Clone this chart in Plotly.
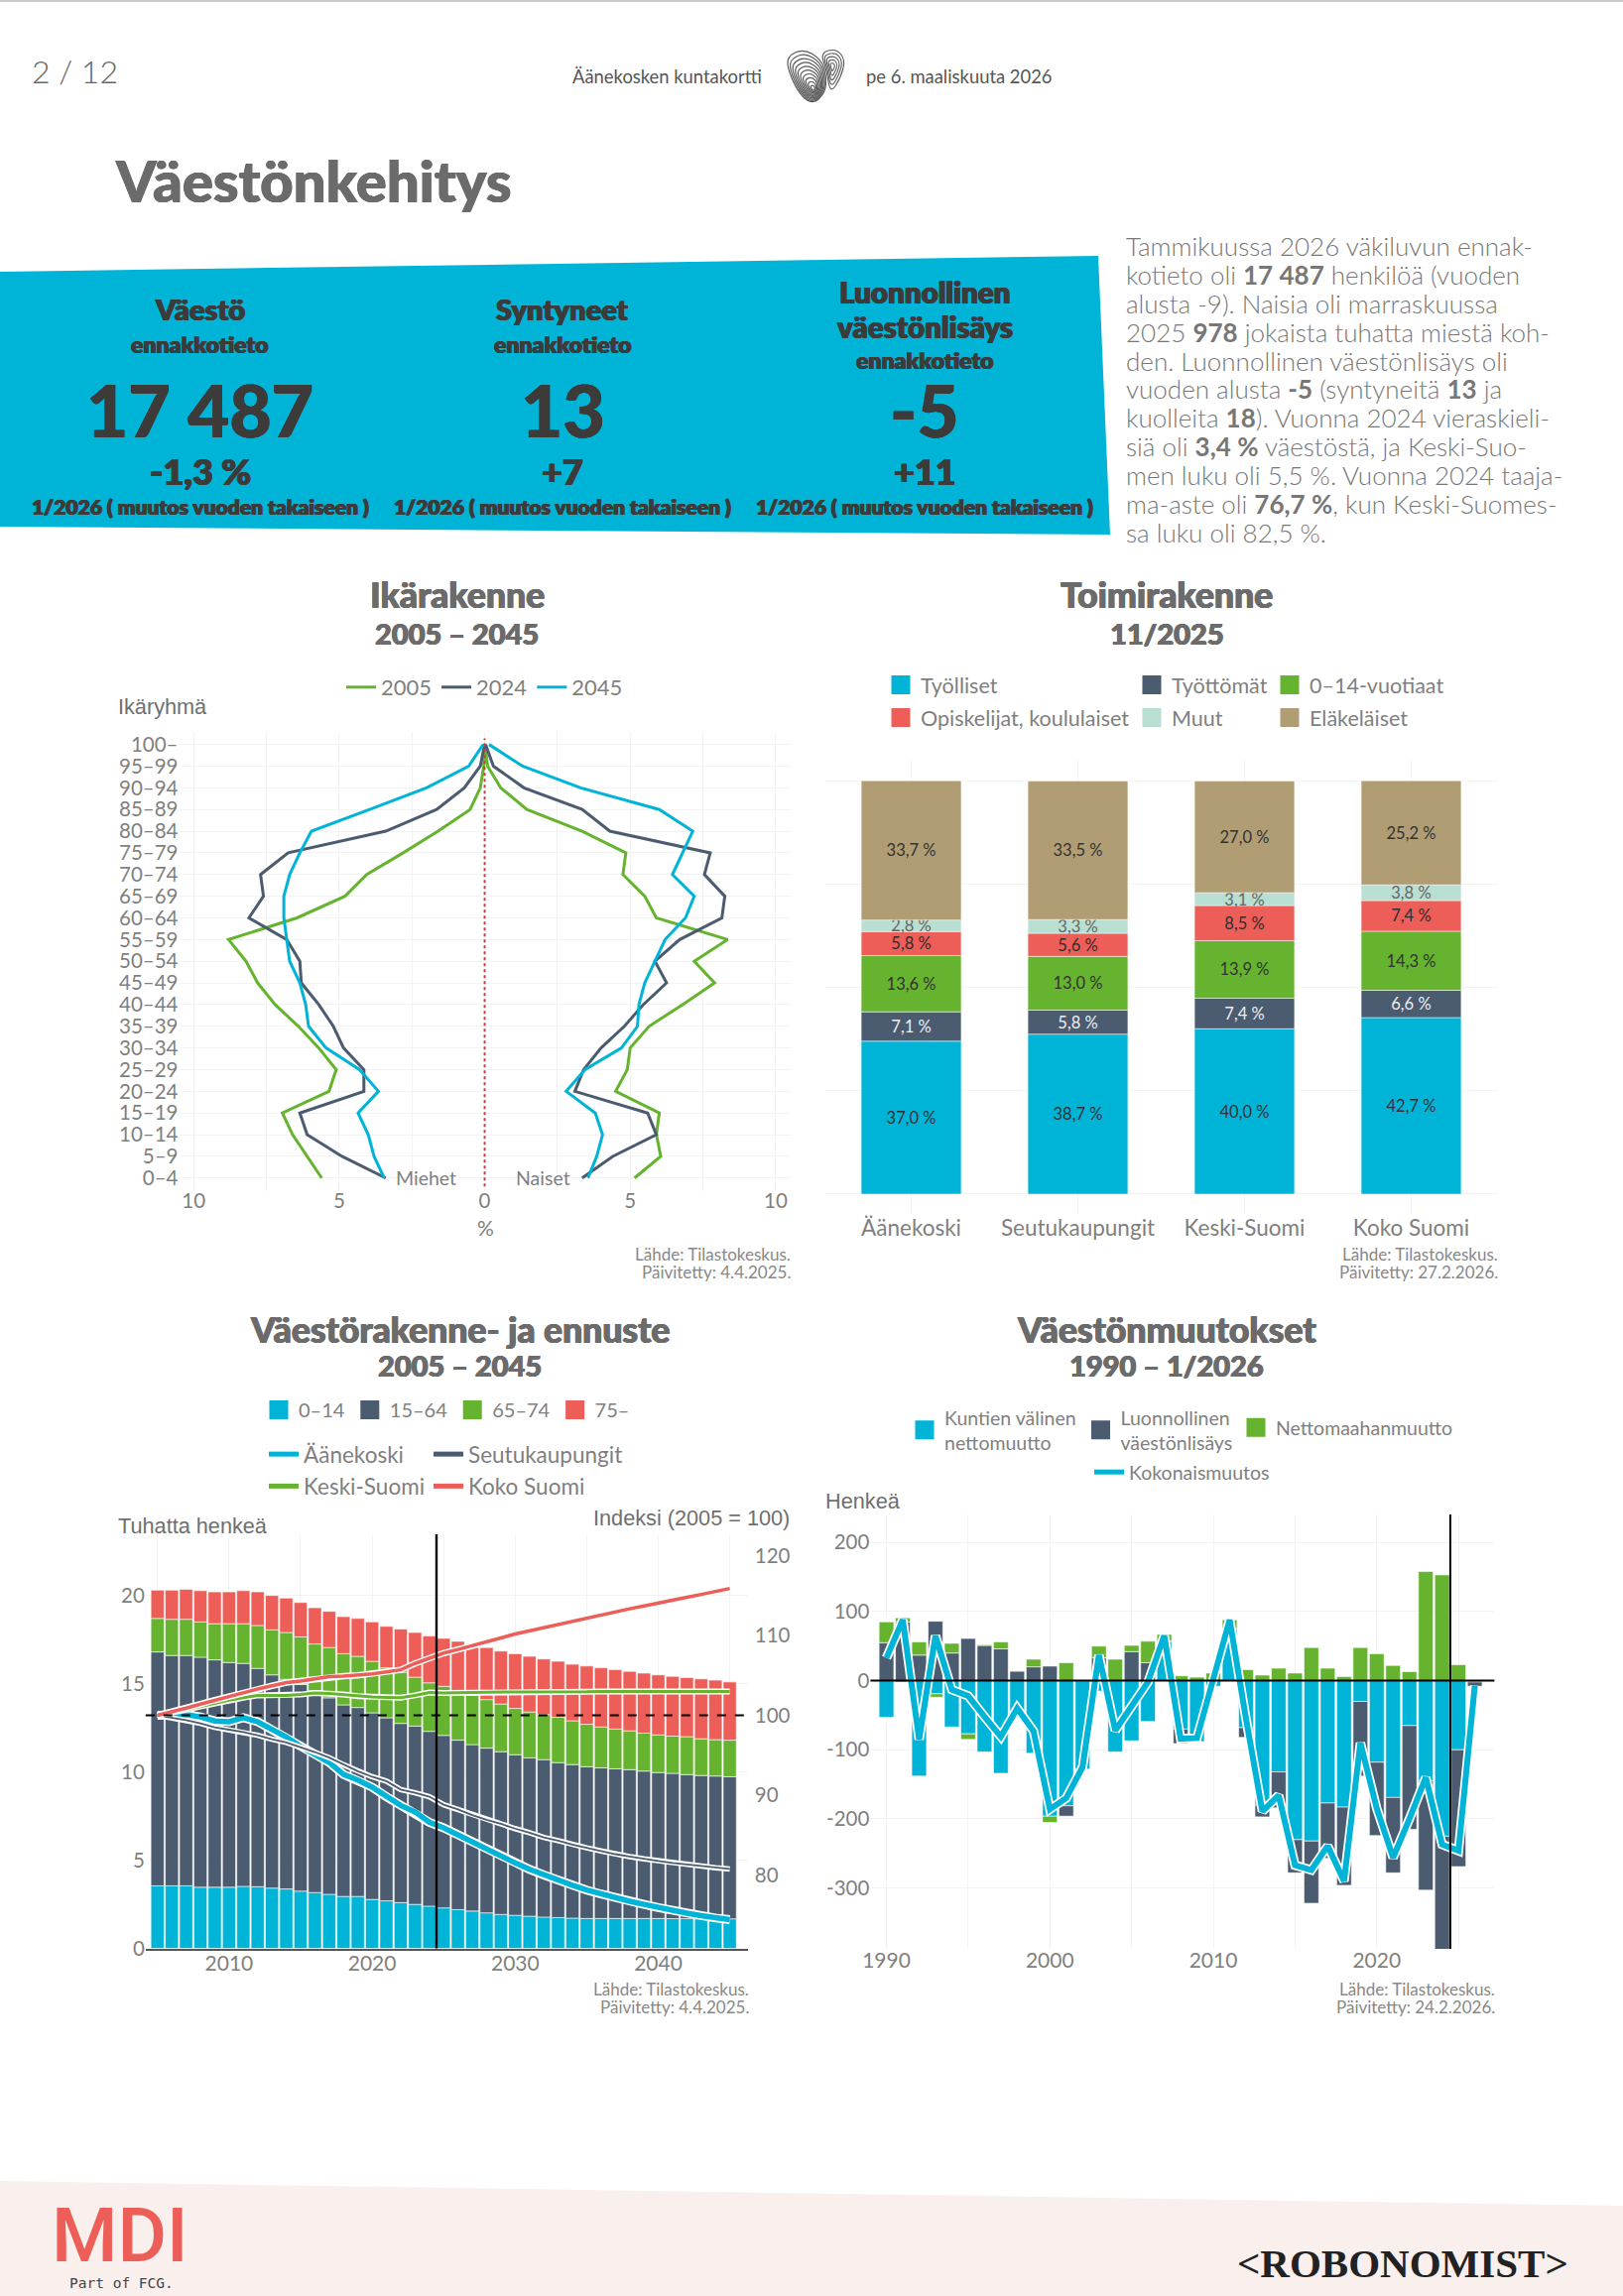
import plotly.graph_objects as go

W, H = 1636, 2315
CYAN, DARK, GREEN, RED, MINT, TAN = "#00b4d8", "#4b5b70", "#65b32e", "#ed5e59", "#b9ded2", "#b19d73"
GRID = "#f3f3f3"
TICK = "#7f7f7f"
SANS = "Lato"
HELV = "Liberation Sans"

# ---- Ikärakenne
ages = ["0–4","5–9","10–14","15–19","20–24","25–29","30–34","35–39","40–44","45–49","50–54",
        "55–59","60–64","65–69","70–74","75–79","80–84","85–89","90–94","95–99","100–"]
men_2005 = [-5.6,-6.1,-6.6,-6.95,-5.35,-5.1,-5.7,-6.4,-7.2,-7.8,-8.2,-8.8,-6.45,-4.8,-4.05,-2.8,-1.6,-0.5,-0.15,-0.03,0]
women_2005 = [5.15,6.05,5.9,6.0,4.5,4.9,5.0,5.65,6.8,7.9,7.2,8.35,5.9,5.5,4.75,4.85,3.35,1.45,0.55,0.1,0.01]
men_2024 = [-3.4,-4.9,-6.1,-6.35,-4.15,-4.15,-4.85,-5.2,-5.7,-6.3,-6.35,-6.8,-8.1,-7.6,-7.7,-6.75,-3.4,-1.65,-0.7,-0.15,0]
women_2024 = [3.35,4.4,5.9,5.6,3.1,3.4,4.0,4.8,5.45,6.25,5.85,6.7,8.15,8.25,7.55,7.75,4.3,3.35,1.35,0.3,0.03]
men_2045 = [-3.45,-3.8,-4.0,-4.35,-3.65,-4.3,-5.45,-6.05,-6.15,-6.35,-6.7,-6.8,-6.9,-6.9,-6.7,-6.35,-5.95,-3.95,-2.0,-0.55,-0.05]
women_2045 = [3.55,3.85,4.05,3.8,2.8,3.45,4.7,5.25,5.3,5.5,5.85,6.2,6.9,7.2,6.45,6.8,7.15,6.0,3.3,1.3,0.15]

# ---- Toimirakenne
regions = ["Äänekoski","Seutukaupungit","Keski-Suomi","Koko Suomi"]
tyolliset = [37.0,38.7,40.0,42.7]
tyottomat = [7.1,5.8,7.4,6.6]
lapset = [13.6,13.0,13.9,14.3]
opiskelijat = [5.8,5.6,8.5,7.4]
muut = [2.8,3.3,3.1,3.8]
elakelaiset = [33.7,33.5,27.0,25.2]

# ---- Väestörakenne- ja ennuste
years_a = list(range(2005,2046))
a014 = [3.55,3.55,3.55,3.47,3.47,3.47,3.52,3.5,3.42,3.37,3.25,3.17,3.07,2.95,2.95,2.78,2.7,2.6,2.5,2.4,2.3,2.2,2.12,2.02,1.93,1.88,1.83,1.78,1.75,1.72,1.7,1.7,1.7,1.7,1.7,1.7,1.69,1.69,1.68,1.68,1.68]
a1564 = [13.25,13.05,13.05,13.03,12.88,12.73,12.63,12.37,12.08,11.88,11.7,11.43,11.13,10.85,10.7,10.57,10.37,10.15,10.1,9.9,9.77,9.6,9.43,9.33,9.22,9.1,8.97,8.92,8.78,8.7,8.6,8.53,8.48,8.43,8.35,8.27,8.23,8.16,8.12,8.09,8.05]
a6574 = [1.9,2.05,2.05,2.0,2.05,2.2,2.25,2.43,2.55,2.65,2.7,2.65,2.85,2.9,2.9,2.92,2.83,2.9,2.77,2.75,2.78,2.8,2.8,2.75,2.7,2.62,2.6,2.55,2.57,2.48,2.4,2.32,2.25,2.2,2.15,2.13,2.11,2.15,2.08,2.06,2.07]
a75 = [1.6,1.65,1.7,1.77,1.8,1.8,1.87,1.9,1.95,1.95,1.95,2.05,2.05,2.1,2.15,2.23,2.35,2.45,2.53,2.65,2.72,2.8,2.85,2.95,3.0,3.1,3.15,3.15,3.17,3.2,3.3,3.35,3.37,3.37,3.4,3.4,3.39,3.35,3.39,3.37,3.3]
idx_aanekoski = [100,100,100.1,99.8,99.3,99.2,99.7,99.2,98.2,97.3,96.1,95,94.1,92.6,91.9,91,89.8,88.7,87.9,86.6,85.9,85,84.1,83.2,82.4,81.5,80.7,80,79.3,78.7,78.1,77.6,77.1,76.7,76.3,75.9,75.5,75.2,74.9,74.6,74.4]
idx_seutu = [100,99.7,99.4,99,98.5,98.2,97.9,97.5,97,96.6,96,95.4,94.7,93.8,93,92.3,91.75,90.7,90.3,89.8,88.8,88.2,87.5,86.9,86.4,85.8,85.3,84.7,84.3,83.8,83.4,83,82.6,82.3,82,81.75,81.5,81.3,81.1,80.9,80.75]
idx_keski = [100,100.3,100.7,101.1,101.5,101.9,102.2,102.5,102.5,102.5,102.6,102.8,102.75,102.6,102.4,102.3,102.25,102.2,102.5,102.85,102.8,102.8,102.85,102.9,102.9,102.9,102.95,102.95,102.95,102.95,102.95,103,103,103,103,103,103,103,103,103,103]
idx_koko = [100,100.4,100.9,101.4,101.9,102.4,102.9,103.3,103.7,104.1,104.3,104.6,104.85,104.9,105,105.2,105.45,105.7,106.5,107.2,107.8,108.25,108.7,109.2,109.7,110.2,110.6,111.05,111.45,111.85,112.2,112.6,113,113.35,113.7,114.1,114.45,114.8,115.15,115.55,115.9]

# ---- Väestönmuutokset
years_b = list(range(1990,2027))
muutto = [-53,-2,-138,-19,-67,-77,-103,-134,-54,-105,-196,-181,-128,-15,-103,-87,-59,57,-70,-88,-8,75,-68,-180,-132,-230,-232,-177,-183,-30,-118,-169,-65,-145,-225,-100,-2]
luonnollinen = [55,85,37,86,40,61,51,46,14,20,21,-15,0,33,0,42,26,0,-21,0,0,0,-14,-17,-52,-48,-90,-80,-113,-108,-106,-109,-150,-158,-165,-169,-6]
maahan = [30,6,19,-5,14,-8,1,10,0,11,-9,26,0,17,31,9,31,10,7,5,11,13,16,8,18,11,48,18,6,48,39,22,13,158,153,23,0]
kokonais = [33,88,-85,65,-13,-22,-52,-81,-40,-73,-186,-170,-125,37,-72,-36,-2,65,-84,-83,3,88,-55,-189,-166,-267,-274,-239,-290,-90,-185,-256,-200,-140,-237,-246,-7]

def X(p): return p / W
def Y(p): return 1 - p / H

ann = []
def txt(s, x, y, size, color="#7a7a7a", weight=400, anchor="left", family=SANS, heavy=False):
    f = dict(size=size, color=color, family=family, weight=weight)
    if heavy:
        f["shadow"] = f"0.6px 0 0 {color}, -0.6px 0 0 {color}, 0 0.4px 0 {color}"
    ann.append(dict(text=s, x=X(x), y=Y(y), xref="paper", yref="paper", showarrow=False,
                    xanchor=anchor, yanchor="middle", align=anchor, font=f))

fig = go.Figure()

def leg_square(name, color, xa, ya, legend):
    fig.add_trace(go.Scatter(x=[None], y=[None], mode="markers", name=name, legend=legend, legendgroup=name,
                             xaxis=xa, yaxis=ya,
                             marker=dict(symbol="square", size=16, color=color, line=dict(color=color, width=3))))

def leg_line(name, color, xa, ya, legend, width=5):
    fig.add_trace(go.Scatter(x=[None], y=[None], mode="lines", name=name, legend=legend, legendgroup=name,
                             xaxis=xa, yaxis=ya, line=dict(color=color, width=width)))

# Chart 1
for nm, col, m, w in [("2005",GREEN,men_2005,women_2005),("2024",DARK,men_2024,women_2024),("2045",CYAN,men_2045,women_2045)]:
    fig.add_trace(go.Scatter(x=m, y=ages, mode="lines", name=nm, legendgroup=nm, legend="legend",
                             line=dict(color=col, width=3), xaxis="x", yaxis="y"))
    fig.add_trace(go.Scatter(x=w, y=ages, mode="lines", name=nm, legendgroup=nm, showlegend=False,
                             line=dict(color=col, width=3), xaxis="x", yaxis="y"))

# Chart 2
def pct(vals): return [f"{v:.1f}".replace(".", ",") + " %" for v in vals]
stack2 = [("Työlliset",tyolliset,CYAN,"#333333","legend2"),("Työttömät",tyottomat,DARK,"#eeeeee","legend3"),
          ("0–14-vuotiaat",lapset,GREEN,"#333333","legend4"),("Opiskelijat, koululaiset",opiskelijat,RED,"#2e2e2e","legend2"),
          ("Muut",muut,MINT,"#666666","legend3"),("Eläkeläiset",elakelaiset,TAN,"#333333","legend4")]
for nm, v, col, tc, lg in stack2:
    fig.add_trace(go.Bar(x=regions, y=v, name=nm, legendgroup=nm, showlegend=False, width=0.6, marker=dict(color=col, line=dict(color="white", width=0.5)),
                         text=pct(v), textposition="inside", insidetextanchor="middle", constraintext="none", textangle=0,
                         insidetextfont=dict(size=16.5, color=tc, family=SANS), xaxis="x2", yaxis="y2"))
    leg_square(nm, col, "x2", "y2", lg)

# Chart 3
for nm, v, col in [("0–14",a014,CYAN),("15–64",a1564,DARK),("65–74",a6574,GREEN),("75–",a75,RED)]:
    fig.add_trace(go.Bar(x=years_a, y=v, name=nm, legendgroup=nm, showlegend=False, width=0.92,
                         marker=dict(color=col, line=dict(color="white", width=0.6)), xaxis="x3", yaxis="y3"))
    leg_square(nm, col, "x3", "y3", "legend5")
for nm, v, col, wc, wo, lg in [("Äänekoski",idx_aanekoski,CYAN,5.5,9,"legend6"),("Seutukaupungit",idx_seutu,DARK,1.8,5.5,"legend7"),
                               ("Keski-Suomi",idx_keski,GREEN,3,6,"legend6"),("Koko Suomi",idx_koko,RED,3.5,6.5,"legend7")]:
    fig.add_trace(go.Scatter(x=years_a, y=v, mode="lines", showlegend=False, legendgroup=nm, name=nm,
                             line=dict(color="white", width=wo), xaxis="x3", yaxis="y5"))
    fig.add_trace(go.Scatter(x=years_a, y=v, mode="lines", showlegend=False, legendgroup=nm, name=nm,
                             line=dict(color=col, width=wc), xaxis="x3", yaxis="y5"))
    leg_line(nm, col, "x3", "y5", lg)

# Chart 4
for nm, v, col, lg in [("Kuntien välinen<br>nettomuutto",muutto,CYAN,"legend8"),("Luonnollinen<br>väestönlisäys",luonnollinen,DARK,"legend10"),("Nettomaahanmuutto",maahan,GREEN,"legend11")]:
    fig.add_trace(go.Bar(x=years_b, y=v, name=nm, legendgroup=nm, showlegend=False, width=0.9,
                         marker=dict(color=col, line=dict(color="white", width=0.6)), xaxis="x4", yaxis="y4"))
    leg_square(nm, col, "x4", "y4", lg)
fig.add_trace(go.Scatter(x=years_b, y=kokonais, mode="lines", showlegend=False, legendgroup="Kokonaismuutos", name="Kokonaismuutos",
                         line=dict(color="white", width=9.5), xaxis="x4", yaxis="y4"))
fig.add_trace(go.Scatter(x=years_b, y=kokonais, mode="lines", showlegend=False, legendgroup="Kokonaismuutos", name="Kokonaismuutos",
                         line=dict(color=CYAN, width=6), xaxis="x4", yaxis="y4"))
leg_line("Kokonaismuutos", CYAN, "x4", "y4", "legend9")

# Axes
def axis(**kw):
    base = dict(showgrid=True, gridcolor=GRID, gridwidth=1.4, zeroline=False, showline=False, ticks="",
                tickfont=dict(size=20.5, color=TICK, family=SANS), automargin=False)
    base.update(kw)
    return base

def dom(a, b, size): return [a / size, b / size]
def ydom(top, bottom): return [1 - bottom / H, 1 - top / H]

lay = dict(
    width=W, height=H, autosize=False, margin=dict(l=0, r=0, t=0, b=0, pad=0),
    paper_bgcolor="white", plot_bgcolor="white", barmode="relative", hovermode=False,
    xaxis=axis(domain=dom(180.5,796.6,W), range=[-10.5,10.5], tickvals=[-10,-7.5,-5,-2.5,0,2.5,5,7.5,10],
               ticktext=["10","","5","","0","","5","","10"], anchor="y", ticklabelstandoff=-4),
    yaxis=axis(domain=ydom(737.5,1200.9), range=[-0.6,20.6], type="category", categoryorder="array", categoryarray=ages, anchor="x", dtick=1),
    xaxis2=axis(domain=dom(831.5,1510,W), range=[-0.518,3.521], type="category", categoryorder="array", categoryarray=regions, anchor="y2",
                tickfont=dict(size=22.5,color=TICK,family=SANS), ticklabelstandoff=-2),
    yaxis2=axis(domain=ydom(765.5,1224), range=[-4.8,105.2], tickvals=[0,25,50,75,100], showticklabels=False, anchor="x2"),
    xaxis3=axis(domain=dom(146.8,753.8,W), range=[2004.17,2046.26], tickvals=[2005,2010,2015,2020,2025,2030,2035,2040,2045],
                ticktext=["","2010","","2020","","2030","","2040",""], anchor="y3", showline=True, linecolor="#555555", linewidth=1.5,
                tickfont=dict(size=21,color=TICK,family=SANS), ticklabelstandoff=-5),
    yaxis3=axis(domain=ydom(1546.9,1964.6), range=[0,23.47], tickvals=[0,5,10,15,20], anchor="x3"),
    yaxis5=axis(domain=ydom(1546.9,1964.6), range=[70.78,122.7], tickvals=[80,90,100,110,120], overlaying="y3", side="right", anchor="x3", showgrid=False, ticklabelstandoff=6),
    xaxis4=axis(domain=dom(877.4,1506.4,W), range=[1989.02,2027.2], tickvals=[1990,1995,2000,2005,2010,2015,2020,2025],
                ticktext=["1990","","2000","","2010","","2020",""], anchor="y4",
                tickfont=dict(size=21,color=TICK,family=SANS), ticklabelstandoff=-3),
    yaxis4=axis(domain=ydom(1527.1,1965), range=[-388,240.3], tickvals=[-300,-200,-100,0,100,200],
                ticktext=["-300","-200","-100","0","100","200"], anchor="x4", ticklabelstandoff=0),
)

def legend(x, y, size=20, orient="v", gap=7, **kw):
    d = dict(x=X(x), y=Y(y), xanchor="left", yanchor="top", orientation=orient, bgcolor="rgba(0,0,0,0)",
             borderwidth=0, font=dict(size=size, color=TICK, family=SANS), tracegroupgap=gap, itemclick=False, itemdoubleclick=False)
    d.update(kw)
    return d

lay["legend"] = legend(344, 672, size=22, orient="h")
lay["legend2"] = legend(888, 670, size=21.5, gap=2)
lay["legend3"] = legend(1141, 670, size=21.5, gap=2)
lay["legend4"] = legend(1280, 670, size=21.5, gap=2)
lay["legend5"] = legend(261, 1402, size=20, orient="h")
lay["legend6"] = legend(266, 1445, size=22.5, gap=0)
lay["legend7"] = legend(432, 1445, size=22.5, gap=0)
lay["legend8"] = legend(912, 1410, size=19.5)
lay["legend10"] = legend(1089.5, 1410, size=19.5)
lay["legend11"] = legend(1246, 1420, size=19.5)
lay["legend9"] = legend(1098, 1465, size=19.5)

shapes = []
def line_shape(xref, yref, x0, y0, x1, y1, color="black", width=2, dash="solid"):
    shapes.append(dict(type="line", xref=xref, yref=yref, x0=x0, y0=y0, x1=x1, y1=y1, layer="above",
                       line=dict(color=color, width=width, dash=dash)))

def poly(pts, color):
    path = "M " + " L ".join(f"{X(a):.5f},{Y(b):.5f}" for a, b in pts) + " Z"
    shapes.append(dict(type="path", xref="paper", yref="paper", path=path, fillcolor=color, line=dict(width=0), layer="below"))

# Page decoration
poly([(0,0),(W,0),(W,2),(0,2)], "#c9c9c9")
poly([(0,274),(1107,258),(1119,539),(0,531)], CYAN)
poly([(0,2199),(W,2224),(W,H),(0,H)], "#f9efed")

# Fingerprint: two lobes of concentric strokes
def lobe(cx, cy, pts, scales, width):
    for s in scales:
        P = [(cx + a * s, cy + b * s) for a, b in pts]
        n = len(P)
        mid = lambda i: ((P[i][0] + P[(i+1) % n][0]) / 2, (P[i][1] + P[(i+1) % n][1]) / 2)
        m0 = mid(n - 1)
        d = f"M {X(m0[0]):.5f},{Y(m0[1]):.5f} "
        for i in range(n):
            m = mid(i)
            d += f"Q {X(P[i][0]):.5f},{Y(P[i][1]):.5f} {X(m[0]):.5f},{Y(m[1]):.5f} "
        shapes.append(dict(type="path", xref="paper", yref="paper", path=d + "Z",
                           line=dict(color="#5a5a5a", width=width), layer="above"))
lobe(820, 90, [(-27,-33),(-10,-41),(8,-30),(13,-13),(12,3),(0,15),(-13,7),(-25,-17)],
     [1,0.9,0.8,0.7,0.6,0.5,0.4,0.3,0.2,0.1], 1.2)
lobe(839, 67, [(-12,-14),(4,-18),(13,-7),(9,10),(-2,28),(-6,3)], [1,0.8,0.6,0.4,0.2], 1.1)

# Chart reference lines
shapes.append(dict(type="line", xref="x", yref="y domain", x0=0, x1=0, y0=0.01, y1=0.985, layer="above",
                   line=dict(color="#d0393f", width=2, dash="dot")))
line_shape("x3", "y3 domain", 2024.5, 0, 2024.5, 1, width=2.4)
line_shape("x3 domain", "y5", 0, 100, 1, 100, width=2, dash="dash")
line_shape("x4", "y4 domain", 2024.5, 0, 2024.5, 1, width=2)
line_shape("x4 domain", "y4", 0, 0, 1, 0, width=2)

# Header & page text
GREY = "#6b6b6b"
txt("2 / 12", 30, 72, 32, "#666666", 300)
txt("Äänekosken kuntakortti", 575, 77, 18.4, "#555555")
txt("pe 6. maaliskuuta 2026", 871, 77, 18.4, "#555555")
txt("Väestönkehitys", 114, 181, 58, GREY, 900, heavy=True)

DK = "#3d3a3a"
for cx in (201.5, 567, 932):
    txt("ennakkotieto", cx, 363.5 if cx == 932 else 347, 23, DK, 800, "center", heavy=True)
    txt("1/2026 ( muutos vuoden takaiseen )", cx, 511, 21, DK, 800, "center", heavy=True)
txt("Väestö", 201.5, 311.5, 29, DK, 800, "center", heavy=True)
txt("Syntyneet", 567, 311.5, 29, DK, 800, "center", heavy=True)
txt("Luonnollinen", 932, 295, 29.5, DK, 800, "center", heavy=True)
txt("väestönlisäys", 932, 329, 29.5, DK, 800, "center", heavy=True)
txt("17 487", 201.5, 413, 73, DK, 900, "center", heavy=True)
txt("13", 567, 413, 73, DK, 900, "center", heavy=True)
txt("-5", 932, 413, 73, DK, 900, "center", heavy=True)
txt("-1,3 %", 201.5, 475, 36, DK, 800, "center", heavy=True)
txt("+7", 567, 475, 36, DK, 800, "center", heavy=True)
txt("+11", 932, 475, 36, DK, 800, "center", heavy=True)

para = ["Tammikuussa 2026 väkiluvun ennak-",
        "kotieto oli <b>17 487</b> henkilöä (vuoden",
        "alusta -9). Naisia oli marraskuussa",
        "2025 <b>978</b> jokaista tuhatta miestä koh-",
        "den. Luonnollinen väestönlisäys oli",
        "vuoden alusta <b>-5</b> (syntyneitä <b>13</b> ja",
        "kuolleita <b>18</b>). Vuonna 2024 vieraskieli-",
        "siä oli <b>3,4 %</b> väestöstä, ja Keski-Suo-",
        "men luku oli 5,5 %. Vuonna 2024 taaja-",
        "ma-aste oli <b>76,7 %</b>, kun Keski-Suomes-",
        "sa luku oli 82,5 %."]
for i, line in enumerate(para):
    txt(line, 1133, 248 + 28.9 * i, 26, "#777777", 300)

# Chart titles
for t1, t2, cx, y1, y2 in [("Ikärakenne","2005 – 2045",461,600,638),("Toimirakenne","11/2025",1176,600,638),
                           ("Väestörakenne- ja ennuste","2005 – 2045",463,1340,1377),("Väestönmuutokset","1990 – 1/2026",1176,1340,1377)]:
    txt(t1, cx, y1, 35.5, GREY, 900, "center", heavy=True)
    txt(t2, cx, y2, 29, GREY, 900, "center", heavy=True)

# Axis captions and sources
txt("Ikäryhmä", 117, 713, 21.7, "#6f6f6f", 400, "left", HELV)
txt("Tuhatta henkeä", 117, 1538, 21.7, "#6f6f6f", 400, "left", HELV)
txt("Indeksi (2005 = 100)", 798, 1530, 21.7, "#6f6f6f", 400, "right", HELV)
txt("Henkeä", 830, 1513, 21.7, "#6f6f6f", 400, "left", HELV)
txt("%", 489, 1237, 21, TICK, 400, "center")
ann.append(dict(text="Miehet", x=-2.0, y="0–4", xref="x", yref="y", showarrow=False, font=dict(size=19.5, color=TICK, family=SANS)))
ann.append(dict(text="Naiset", x=2.0, y="0–4", xref="x", yref="y", showarrow=False, font=dict(size=19.5, color=TICK, family=SANS)))
for sx, ys, d in [(799,1264.5,"4.4.2025"),(1512,1264.5,"27.2.2026"),(757,2005.5,"4.4.2025"),(1509,2005.5,"24.2.2026")]:
    txt("Lähde: Tilastokeskus.", sx, ys, 17, "#888888", 400, "right")
    txt(f"Päivitetty: {d}.", sx, ys + 17.8, 17, "#888888", 400, "right")

# Footer logos as text
txt("MDI", 50, 2254, 76, RED, 500, "left", "Roboto")
txt("Part of FCG.", 68, 2302, 14.5, "#444444", 400, "left", "DejaVu Sans Mono")
txt("&lt;ROBONOMIST&gt;", 1414, 2282, 41, "#222222", 700, "center", "Liberation Serif")

lay["annotations"] = ann
lay["shapes"] = shapes
fig.update_layout(**lay)
fig.write_html("out.html", post_script="document.body.style.margin='0';", config={"displayModeBar": False})
